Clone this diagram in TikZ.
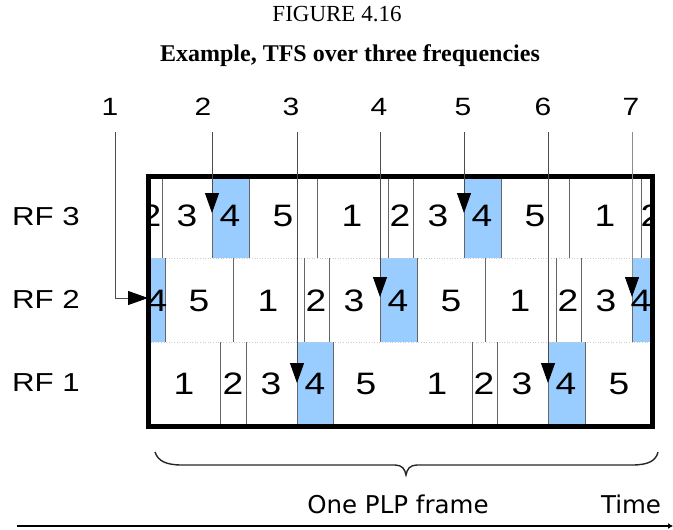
\documentclass[tikz,border=0pt]{standalone}
\usepackage{fontspec}
\setmainfont{Liberation Serif}
\newfontfamily\arialw[FakeStretch=1.2]{Liberation Sans}
\newfontfamily\dejavu{DejaVu Sans}
\usetikzlibrary{arrows.meta}
\definecolor{cellblue}{RGB}{153,204,255}
\begin{document}
\begin{tikzpicture}[x=1pt,y=-1pt,
  digit/.style={font=\arialw\fontsize{31pt}{31pt}\selectfont, inner sep=0pt},
  rflabel/.style={font=\arialw\fontsize{26pt}{26pt}\selectfont, inner sep=0pt},
  topnum/.style={font=\arialw\fontsize{25pt}{25pt}\selectfont, inner sep=0pt},
  cellline/.style={draw=black!60, line width=0.8pt},
  rowline/.style={draw=gray!40, line width=0.6pt, dotted},
  bluecell/.style={fill=cellblue},
  framebox/.style={draw=black, line width=5pt},
  hoparrow/.style={draw=black!70, line width=0.9pt, -{Triangle[length=20pt,width=14pt,black]}},
  bottomtext/.style={font=\dejavu\fontsize{24.5pt}{24.5pt}\selectfont, inner sep=0pt, anchor=base},
]
\useasboundingbox (0,0) rectangle (673,530);

% titles
\node[font=\fontsize{23pt}{23pt}\selectfont, inner sep=0pt] (fig) at (337,14) {FIGURE 4.16};
\node[font=\bfseries\fontsize{24pt}{24pt}\selectfont, inner sep=0pt] (title) at (350,56) {Example, TFS over three frequencies};

% blue cells
\fill[bluecell] (212,176) rectangle (249,258);
\fill[bluecell] (464,176) rectangle (501,258);
\fill[bluecell] (148,258) rectangle (165,342);
\fill[bluecell] (380,258) rectangle (417,342);
\fill[bluecell] (632,258) rectangle (652,342);
\fill[bluecell] (297,342) rectangle (333,426);
\fill[bluecell] (548,342) rectangle (585,426);

% row separators
\draw[rowline] (148,258) -- (652,258);
\draw[rowline] (148,342) -- (652,342);

% cell boundaries
\foreach \x in {162,212,249,317,388,413,464,501,569,641}
  \draw[cellline] (\x,176) -- (\x,258);
\foreach \x in {165,233,304,329,380,417,485,556,581,632}
  \draw[cellline] (\x,258) -- (\x,342);
\foreach \x in {220,246,297,333,472,497,548,585}
  \draw[cellline] (\x,342) -- (\x,426);

% digits
\begin{scope}
\clip (150,176) rectangle (650,426);
\foreach \x/\d [count=\k] in {151/2,187/3,230/4,283/5,352/1,400/2,438/3,482/4,535/5,605/1,651/2}
  \node[digit] (rthree\k) at (\x,216) {\d};
\foreach \x/\d [count=\k] in {157/4,199/5,268/1,316/2,354/3,398/4,451/5,520/1,568/2,606/3,641/4}
  \node[digit] (rtwo\k) at (\x,301) {\d};
\foreach \x/\d [count=\k] in {184/1,233/2,271/3,315/4,366/5,437/1,484/2,522/3,566/4,619/5}
  \node[digit] (rone\k) at (\x,384) {\d};
\end{scope}

% frame
\draw[framebox] (148,176) rectangle (652,426);

% row labels
\node[rflabel] (rf3) at (46,217) {RF 3};
\node[rflabel] (rf2) at (46,299) {RF 2};
\node[rflabel] (rf1) at (46,383) {RF 1};

% top numbers
\foreach \x/\d in {110/1,203/2,291/3,379/4,463/5,543/6,631/7}
  \node[topnum] (n\d) at (\x,107) {\d};

% hop arrows
\coordinate (s1) at (115,132);
\coordinate (e1) at (148,298);
\coordinate (s2) at (212,132);
\coordinate (e2) at (212,213);
\coordinate (s3) at (297,132);
\coordinate (e3) at (297,383);
\coordinate (s4) at (380,132);
\coordinate (e4) at (380,297);
\coordinate (s5) at (464,132);
\coordinate (e5) at (464,213);
\coordinate (s6) at (548,132);
\coordinate (e6) at (548,383);
\coordinate (s7) at (632,132);
\coordinate (e7) at (632,297);
\draw[hoparrow] (s1) |- (e1);
\draw[hoparrow] (s2) -- (e2);
\draw[hoparrow] (s3) -- (e3);
\draw[hoparrow] (s4) -- (e4);
\draw[hoparrow] (s5) -- (e5);
\draw[hoparrow] (s6) -- (e6);
\draw[hoparrow, draw=black!45] (s7) -- (e7);

% brace
\draw[line width=1.4pt, black!85]
  (155,452) .. controls (158,461) and (166,465) .. (182,465) -- (395,465)
  .. controls (402,465) and (405,469) .. (406,475)
  .. controls (407,469) and (410,465) .. (417,465) -- (632,465)
  .. controls (648,465) and (656,461) .. (658,452);

% bottom texts and time axis
\node[bottomtext] (plp) at (398,513) {One PLP frame};
\node[bottomtext] (time) at (631,513) {Time};
\coordinate (t0) at (17,526);
\coordinate (t1) at (673,526);
\draw[line width=1.8pt, -{Latex[length=5pt,width=6pt]}] (t0) -- (t1);
\end{tikzpicture}
\end{document}
